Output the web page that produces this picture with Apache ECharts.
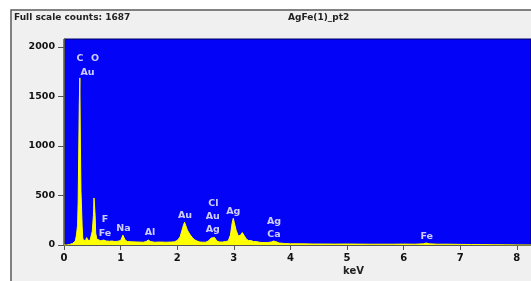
<!DOCTYPE html>
<head>
    <meta charset="utf-8"/>
    <style>
        html,body { height:100%; width:100%; margin:0; padding:0; background:#ffffff; }
    </style>
</head>
<body>
<div id="spec" style="width:531px;height:281px"></div>

<script src="https://cdn.jsdelivr.net/npm/echarts@6/dist/echarts.min.js"></script>
<script type="text/javascript">

 // energy channels (keV) and counts
 var energy = [0.00,0.05,0.10,0.15,0.18,0.20,0.22,0.24,0.25,0.26,0.27,0.28,0.29,0.30,0.31,0.32,0.33,0.34,0.36,0.38,0.40,0.42,0.44,0.46,0.48,0.50,0.52,0.53,0.54,0.55,0.56,0.58,0.60,0.65,0.70,0.72,0.75,0.80,0.85,0.90,0.95,1.00,1.02,1.04,1.06,1.08,1.12,1.20,1.30,1.40,1.45,1.49,1.53,1.60,1.70,1.80,1.90,1.95,2.00,2.05,2.08,2.11,2.13,2.15,2.18,2.22,2.26,2.30,2.35,2.40,2.45,2.50,2.55,2.60,2.63,2.66,2.70,2.75,2.80,2.85,2.90,2.94,2.97,2.99,3.01,3.04,3.08,3.12,3.15,3.18,3.22,3.26,3.30,3.35,3.40,3.45,3.50,3.55,3.60,3.66,3.70,3.74,3.80,3.90,4.00,4.20,4.40,4.60,4.80,5.00,5.20,5.40,5.60,5.80,6.00,6.20,6.35,6.40,6.45,6.60,6.80,7.00,7.20,7.40,7.60,7.80,8.00,8.25];
 var counts = [0,0,5,15,25,40,100,200,430,430,1430,1687,1000,540,540,200,80,50,60,45,75,50,40,45,60,140,300,475,460,300,120,60,45,42,50,45,40,38,40,35,38,45,70,100,85,50,35,32,30,28,35,50,35,28,30,28,30,32,45,80,140,200,230,210,150,110,80,55,40,30,28,28,40,70,85,75,40,30,30,35,40,100,220,270,250,150,90,100,125,110,60,45,45,35,35,28,25,25,25,30,40,35,20,15,12,12,10,10,9,10,9,8,8,8,9,8,12,20,12,8,8,6,5,4,3,2,1,0];

 // element labels: [name, keV, counts]
 var peakNames  = ['C','O','Au','F','Fe','Na','Al','Au','Cl','Au','Ag','Ag','Ag','Ca','Fe'];
 var peakEnergy = [0.283,0.548,0.415,0.724,0.724,1.051,1.519,2.138,2.638,2.627,2.627,2.991,3.710,3.710,6.408];
 var peakHeight = [1884,1884,1742,258,116,167,124,296,421,286,152,336,235,101,84];

 var xTicks = [0,1,2,3,4,5,6,7,8];
 var yTicks = [0,500,1000,1500,2000];

 var titleLeft = 'Full scale counts: 1687';
 var titleMid = 'AgFe(1)_pt2';

 var specChart;
 var specOptions;

 function createSpec(){
    var line = [];
    for (var i = 0; i < energy.length; i++) line.push([energy[i], counts[i]]);
    var tags = [];
    for (var j = 0; j < peakNames.length; j++) tags.push([peakEnergy[j], peakHeight[j], peakNames[j]]);

    var fnt = 'DejaVu Sans';

    specOptions = {
        animation: false,
        textStyle: { fontFamily: fnt },
        graphic: [
            { type: 'rect', shape: { x: 11, y: 10, width: 540, height: 290 },
              style: { fill: '#f0f0f0', stroke: '#5a5a5a', lineWidth: 1.5 }, z: -10 },
            { type: 'text', left: 14, top: 13,
              style: { text: titleLeft, font: 'bold 9px "DejaVu Sans"', fill: '#222' } },
            { type: 'text', left: 288, top: 13,
              style: { text: titleMid, font: 'bold 9px "DejaVu Sans"', fill: '#222' } },
            { type: 'text', left: 343, top: 266,
              style: { text: 'keV', font: 'bold 10px "DejaVu Sans"', fill: '#222' } }
        ],
        grid: {
            left: 64, right: 0, top: 39, bottom: 36,
            show: true, backgroundColor: '#0303f8', borderColor: '#000060', borderWidth: 1
        },
        xAxis: {
            type: 'value', min: 0, max: 8.25,
            splitLine: { show: false },
            axisLine: { lineStyle: { color: '#555', width: 1 } },
            axisTick: { show: true, length: 5, customValues: xTicks, lineStyle: { color: '#555' } },
            axisLabel: { customValues: xTicks, margin: 8, color: '#111', fontWeight: 'bold', fontSize: 10 }
        },
        yAxis: {
            type: 'value', min: 0, max: 2080,
            splitLine: { show: false },
            axisLine: { show: true, lineStyle: { color: '#555', width: 1 } },
            axisTick: { show: true, length: 6, customValues: yTicks, lineStyle: { color: '#555' } },
            axisLabel: { customValues: yTicks, margin: 9, color: '#111', fontWeight: 'bold', fontSize: 9.5,
                         formatter: function(v){ return String(v); } }
        },
        series: [
            {
                type: 'line',
                data: line,
                symbol: 'none',
                lineStyle: { color: '#ffff00', width: 1 },
                areaStyle: { color: '#ffff00', opacity: 1 }
            },
            {
                type: 'scatter',
                data: tags,
                symbolSize: 0,
                label: {
                    show: true, position: 'inside',
                    formatter: function(p){ return p.data[2]; },
                    color: '#ffffff', fontWeight: 'bold', fontSize: 9.5
                }
            }
        ]
    };
 }

 createSpec();
 specChart = echarts.init(document.getElementById('spec'));
 specChart.setOption(specOptions);

</script>
</body>
